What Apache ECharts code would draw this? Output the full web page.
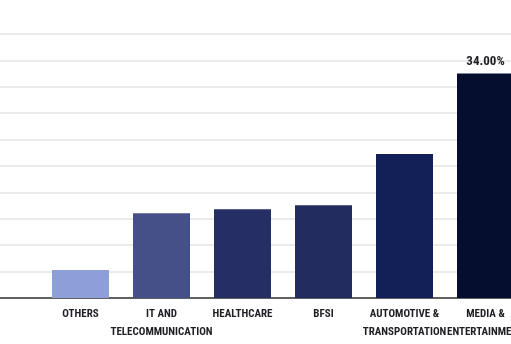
<!DOCTYPE html>
<html>
<head>
<meta charset="utf-8">
<script src="https://cdn.jsdelivr.net/npm/echarts@6/dist/echarts.min.js"></script>
<style>html,body{margin:0;padding:0;background:#fff;}#c{width:511px;height:344px;}</style>
</head>
<body>
<div id="c"></div>
<script>
const categories = ['OTHERS', 'IT AND\nTELECOMMUNICATION', 'HEALTHCARE', 'BFSI', 'AUTOMOTIVE &\nTRANSPORTATION', 'MEDIA &\nENTERTAINMENT'];
const shares = [4.25, 12.85, 13.45, 14.05, 21.8, 34.0];
const labelled = [false, false, false, false, false, true];
const barColors = ['#8c9fd6', '#465088', '#252f66', '#222c5e', '#131f57', '#050e2e'];
const yTicks = {min: 0, max: 40, interval: 4};

const chart = echarts.init(document.getElementById('c'), null, {renderer: 'canvas'});
const FONT = '"Roboto Condensed", "Liberation Sans Narrow", sans-serif';
chart.setOption({
  animation: false,
  backgroundColor: '#fff',
  grid: [
    {left: 40, width: 486, top: 34, height: 264, containLabel: false, outerBoundsMode: 'none'},
    {left: 0, width: 511, top: 34, height: 264, containLabel: false, outerBoundsMode: 'none'}
  ],
  xAxis: [
    {
      type: 'category', gridIndex: 0, data: categories,
      axisLine: {show: false}, axisTick: {show: false},
      axisLabel: {interval: 0, margin: 7, color: '#1e1e24', fontFamily: FONT, fontWeight: 'bold', fontSize: 11, lineHeight: 18, hideOverlap: false}
    },
    {
      type: 'value', gridIndex: 1, min: 0, max: 1, show: true,
      axisLine: {show: true, onZero: false, lineStyle: {color: '#333', width: 1.5}},
      axisTick: {show: false}, axisLabel: {show: false}, splitLine: {show: false}
    }
  ],
  yAxis: [
    {type: 'value', gridIndex: 0, min: yTicks.min, max: yTicks.max, interval: yTicks.interval, show: false, splitLine: {show: false}},
    {type: 'value', gridIndex: 1, min: yTicks.min, max: yTicks.max, interval: yTicks.interval,
      axisLine: {show: false}, axisTick: {show: false}, axisLabel: {show: false},
      splitLine: {show: true, lineStyle: {color: '#e4e4e4', width: 1.5}}}
  ],
  series: [{
    type: 'bar', xAxisIndex: 0, yAxisIndex: 0, barWidth: 57,
    data: shares.map((v, i) => ({
      value: v,
      itemStyle: {color: barColors[i]},
      label: {show: labelled[i]}
    })),
    label: {
      position: 'top', distance: 5, color: '#1e1e24', fontFamily: FONT, fontWeight: 'bold', fontSize: 13,
      formatter: p => p.value.toFixed(2) + '%'
    }
  }]
});
</script>
</body>
</html>
